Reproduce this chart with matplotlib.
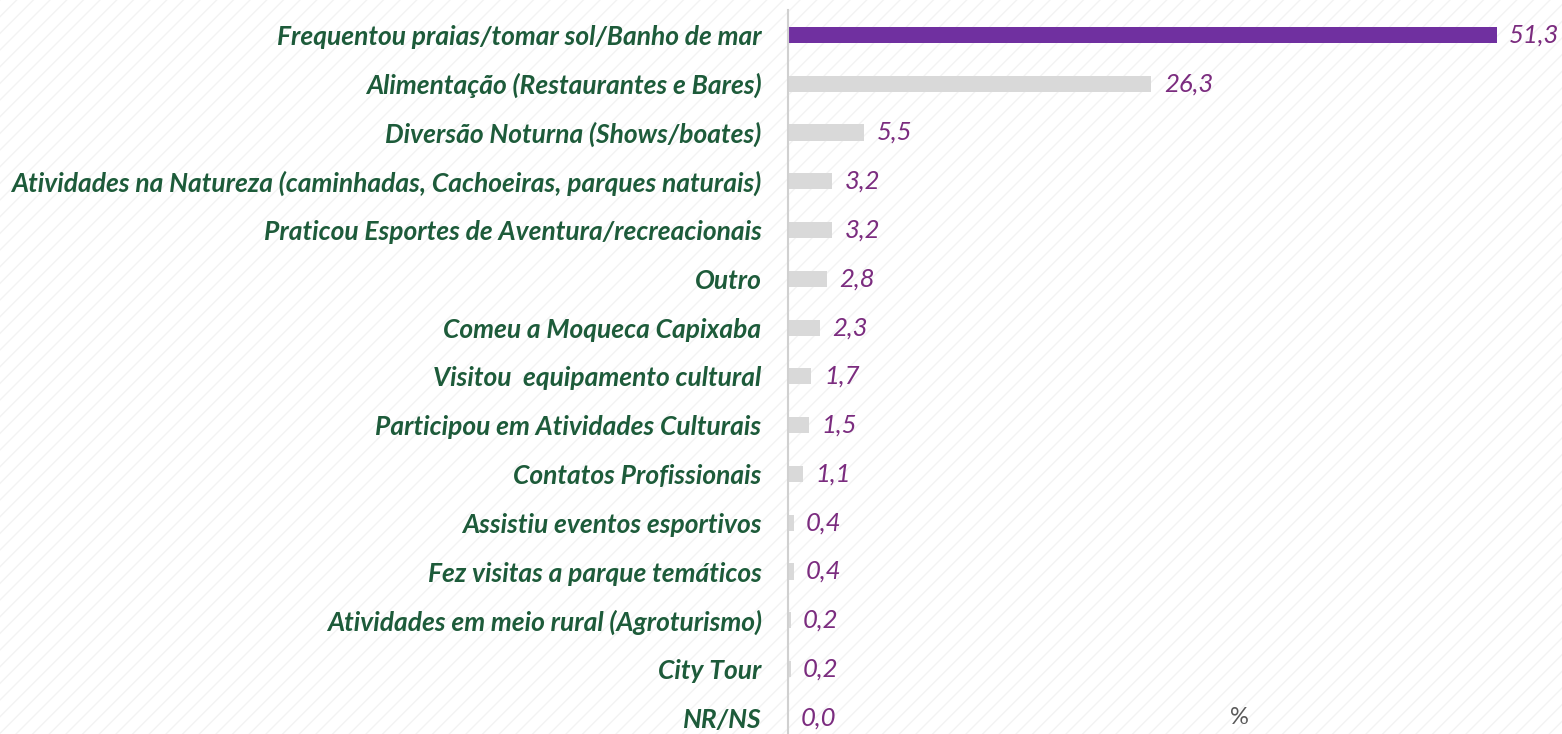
import matplotlib.pyplot as plt
from matplotlib.patches import Rectangle

# atividades realizadas (%)
categorias = [
    "Frequentou praias/tomar sol/Banho de mar",
    "Alimentação (Restaurantes e Bares)",
    "Diversão Noturna (Shows/boates)",
    "Atividades na Natureza (caminhadas, Cachoeiras, parques naturais)",
    "Praticou Esportes de Aventura/recreacionais",
    "Outro",
    "Comeu a Moqueca Capixaba",
    "Visitou  equipamento cultural",
    "Participou em Atividades Culturais",
    "Contatos Profissionais",
    "Assistiu eventos esportivos",
    "Fez visitas a parque temáticos",
    "Atividades em meio rural (Agroturismo)",
    "City Tour",
    "NR/NS",
]
valores = [51.3, 26.3, 5.5, 3.2, 3.2, 2.8, 2.3, 1.7, 1.5, 1.1, 0.4, 0.4, 0.2, 0.2, 0.0]

roxo = "#7030A0"
cinza = "#D9D9D9"
verde = "#1D5B3A"
roxo_txt = "#7B2C7F"

fig = plt.figure(figsize=(15.62, 7.34), dpi=100)

# fundo listrado
fundo = Rectangle((0, 0), 1, 1, transform=fig.transFigure, facecolor="white",
                  edgecolor="#F3F3F3", hatch="//", linewidth=0, zorder=-10)
fig.patches.append(fundo)

ax = fig.add_axes([788 / 1562, 0, (1548 - 788) / 1562, 724 / 734])
ax.patch.set_alpha(0)

y = list(range(len(categorias)))
cores = [roxo] + [cinza] * (len(categorias) - 1)
ax.barh(y, valores, height=0.33, color=cores, zorder=2)

ax.set_xlim(0, 55)
ax.set_ylim(len(categorias) - 1 + 0.33, -0.51)

for yi, v in zip(y, valores):
    ax.text(v + 0.9, yi, f"{v:.1f}".replace(".", ","), va="center", ha="left",
            fontsize=18.5, style="italic", color=roxo_txt, family="Lato")

ax.set_yticks(y)
ax.set_yticklabels(categorias, fontsize=19, fontweight="bold", style="italic",
                   color=verde, family="Lato")
ax.tick_params(axis="y", length=0, pad=19)
ax.set_xticks([])

for s in ["top", "right", "bottom"]:
    ax.spines[s].set_visible(False)
ax.spines["left"].set_color("#D0D0D0")
ax.spines["left"].set_linewidth(1.5)

ax.text(32.7, len(categorias) - 1, "%", ha="center", va="center", fontsize=17,
        color="#595959", family="Lato")

fig.savefig("out.png", dpi=100)
